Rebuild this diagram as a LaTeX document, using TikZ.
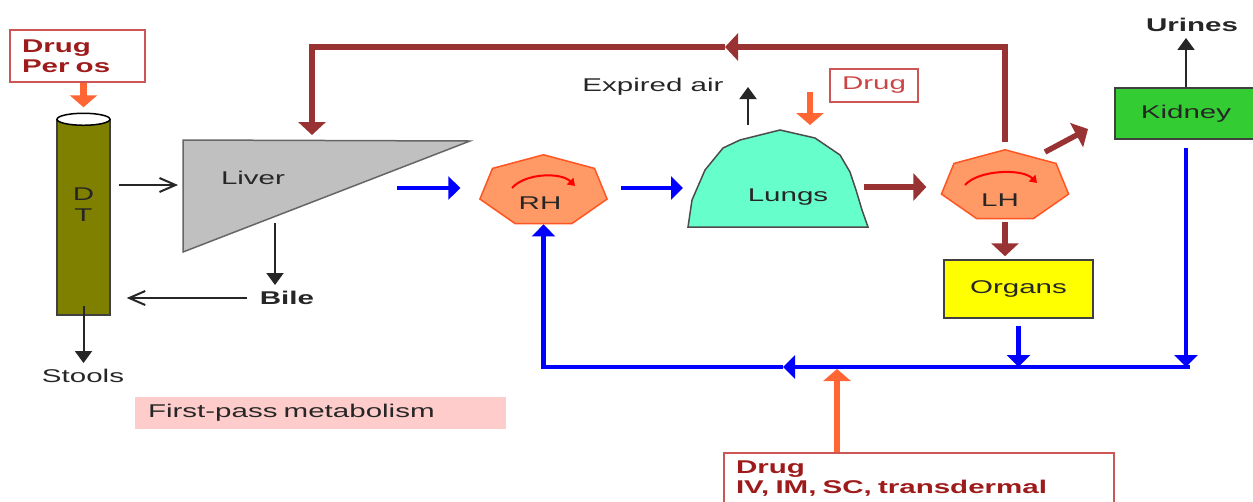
\documentclass[tikz,border=0pt]{standalone}
\usepackage{fontspec}
\setmainfont{Liberation Sans}[FakeStretch = 1.6]
\usepackage{tikz}
\usetikzlibrary{arrows.meta, shapes.geometric}

\definecolor{drugred}{HTML}{9E1B1B}
\definecolor{drugedge}{HTML}{CC5555}
\definecolor{druglight}{HTML}{CC4444}
\definecolor{arterybrown}{HTML}{993333}
\definecolor{doseorange}{HTML}{FF6633}
\definecolor{bloodblue}{HTML}{0000FF}
\definecolor{heartfill}{HTML}{FF9966}
\definecolor{heartedge}{HTML}{FF5522}
\definecolor{lungfill}{HTML}{66FFCC}
\definecolor{kidneyfill}{HTML}{33CC33}
\definecolor{organfill}{HTML}{FFFF00}
\definecolor{liverfill}{HTML}{C0C0C0}
\definecolor{gutfill}{HTML}{808000}
\definecolor{pinkfill}{HTML}{FFCCCC}

\begin{document}
\begin{tikzpicture}[x = 0.02cm, y = -0.02cm,
    every node/.style = {font = \fontsize{10.5}{12}\selectfont, text = black!85},
    boldtext/.style = {font = \fontsize{10.5}{12}\selectfont\bfseries},
    drugbox/.style = {draw = drugedge, line width = 0.04cm, text = drugred, font = \fontsize{10.5}{11.5}\selectfont\bfseries, align = left, inner xsep = 0.24cm},
    organ/.style = {draw = black!75, line width = 0.03cm, inner sep = 0pt},
    heart/.style = {regular polygon, regular polygon sides = 7, minimum size = 1.45cm, inner sep = 0pt, xscale = 1.8, fill = heartfill, draw = heartedge, line width = 0.03cm},
    beat/.style = {draw = red, line width = 0.04cm, -{Triangle[width = 0.18cm, length = 0.14cm]}},
    blood/.style = {draw = bloodblue, line width = 0.09cm, -{Triangle[width = 0.46cm, length = 0.24cm]}},
    arterial/.style = {draw = arterybrown, line width = 0.11cm, -{Triangle[width = 0.54cm, length = 0.26cm]}},
    dose/.style = {draw = doseorange, line width = 0.13cm, -{Triangle[width = 0.54cm, length = 0.24cm]}},
    flow/.style = {draw = black!85, line width = 0.04cm, -{Triangle[width = 0.34cm, length = 0.24cm]}},
    barb/.style = {draw = black!85, line width = 0.04cm, -{Straight Barb[width = 0.28cm, length = 0.32cm]}}]

    \useasboundingbox (0, 0) rectangle (1253, 501);

    \node[drugbox, text width = 2.22cm, minimum height = 1.04cm] (drugoral) at (77.5, 56) {Drug\\Per os};

    \node[organ, fill = gutfill, minimum width = 1.06cm, minimum height = 3.9cm] (dt) at (83.5, 217.5) {};
    \draw[fill = white, line width = 0.03cm] (dt.north) ellipse [x radius = 0.53cm, y radius = 0.12cm];
    \node[align = center] (dtlabel) at (83.5, 205) {D\\T};
    \draw[dose, shorten > = 0.24cm] (drugoral.south -| dt.north) -- (dt.north);

    \coordinate (livertop) at (183, 140);
    \coordinate (livertip) at (470, 141);
    \coordinate (liverbase) at (183, 252);
    \draw[fill = liverfill, draw = black!60, line width = 0.03cm] (livertop) -- (livertip) -- (liverbase) -- cycle;
    \node (liver) at (253, 178) {Liver};

    \coordinate (liverin) at (178, 185);
    \draw[barb, shorten < = 0.16cm] (dt.east |- liverin) -- (liverin);

    \coordinate (bileout) at (275, 223);
    \node[boldtext] (bile) at (287, 298) {Bile};
    \draw[flow] (bileout) -- (bileout |- bile.north);
    \draw[barb, shorten < = 0.14cm, shorten > = 0.32cm] (bile.west) -- (bile.west -| dt.east);

    \node (stools) at (83, 376) {Stools};
    \draw[flow, shorten < = -0.2cm] (dt.south) -- (dt.south |- stools.north);

    \node[fill = pinkfill, text width = 6.9cm, align = left, inner xsep = 0.26cm, inner ysep = 0pt, minimum height = 0.64cm] (firstpass) at (320.5, 413) {First-pass metabolism};

    \node[heart] (rh) at (543.5, 191) {};
    \node (rhlabel) at (540, 203) {RH};
    \draw[beat] (512, 188) .. controls (525, 173) and (561, 172) .. (575, 186);
    \coordinate (liverout) at (397, 188);
    \draw[blood, shorten > = 0.43cm] (liverout) -- (liverout -| rh.west);

    \draw[fill = lungfill, draw = black!70, line width = 0.03cm] (688, 227) -- (692, 200) -- (705, 170) -- (723, 148) -- (740, 140) -- (780, 130) -- (815, 138) -- (840, 155) -- (850, 172) -- (856, 190) -- (862, 210) -- (868, 227) -- cycle;
    \node (lungs) at (788, 197) {Lungs};
    \coordinate (lungsin) at (683, 188);
    \draw[blood, shorten < = 0.32cm] (rh.east |- lungsin) -- (lungsin);

    \node (expired) at (653, 87) {Expired air};
    \coordinate (airout) at (748, 125);
    \draw[flow] (airout) -- (airout |- expired);

    \node[draw = drugedge, line width = 0.03cm, text = druglight, minimum width = 1.76cm, minimum height = 0.66cm] (druglung) at (874, 85.5) {Drug};
    \coordinate (lungsdrug) at (810, 125);
    \draw[dose, shorten < = 0.13cm] (lungsdrug |- druglung) -- (lungsdrug);

    \node[heart] (lh) at (1005, 186) {};
    \node (lhlabel) at (1000, 200) {LH};
    \draw[beat] (965, 185) .. controls (978, 170) and (1022, 168) .. (1037, 183);
    \coordinate (lungsout) at (864, 187);
    \draw[arterial, shorten > = 0.34cm] (lungsout) -- (lungsout -| lh.west);

    \coordinate (returnmid) at (725, 47);
    \coordinate (portal) at (312, 135);
    \draw[arterial, shorten < = 0.14cm] (lh.north) |- (returnmid);
    \draw[arterial] (returnmid) -| (portal);

    \node[organ, fill = kidneyfill, minimum width = 2.84cm, minimum height = 1.02cm] (kidney) at (1186, 113.5) {Kidney};
    \coordinate (lhout) at (1045, 152);
    \coordinate (kidneyin) at (1088, 129);
    \draw[arterial] (lhout) -- (kidneyin);

    \node[boldtext] (urines) at (1192, 25) {Urines};
    \draw[flow] (kidney.north) -- (kidney.north |- urines.south);

    \node[organ, fill = organfill, minimum width = 2.98cm, minimum height = 1.16cm] (organs) at (1018.5, 289) {Organs};
    \draw[arterial, shorten < = 0.06cm, shorten > = 0.06cm] (lh.south) -- (lh.south |- organs.north);

    \coordinate (veins) at (1190, 367);
    \coordinate (venamid) at (783, 367);
    \draw[blood, shorten < = 0.16cm] (kidney.south) -- (kidney.south |- veins);
    \draw[blood, shorten < = 0.14cm] (organs.south) -- (organs.south |- veins);
    \draw[blood] (veins) -- (venamid);
    \draw[blood] (venamid) -| (rh.south);

    \node[drugbox, anchor = north west, text width = 7.32cm, inner ysep = 0.16cm] (drugiv) at (723, 452) {Drug\\IV, IM, SC, transdermal};
    \coordinate (veinin) at (837, 369);
    \draw[dose] (drugiv.north -| veinin) -- (veinin);

\end{tikzpicture}
\end{document}
